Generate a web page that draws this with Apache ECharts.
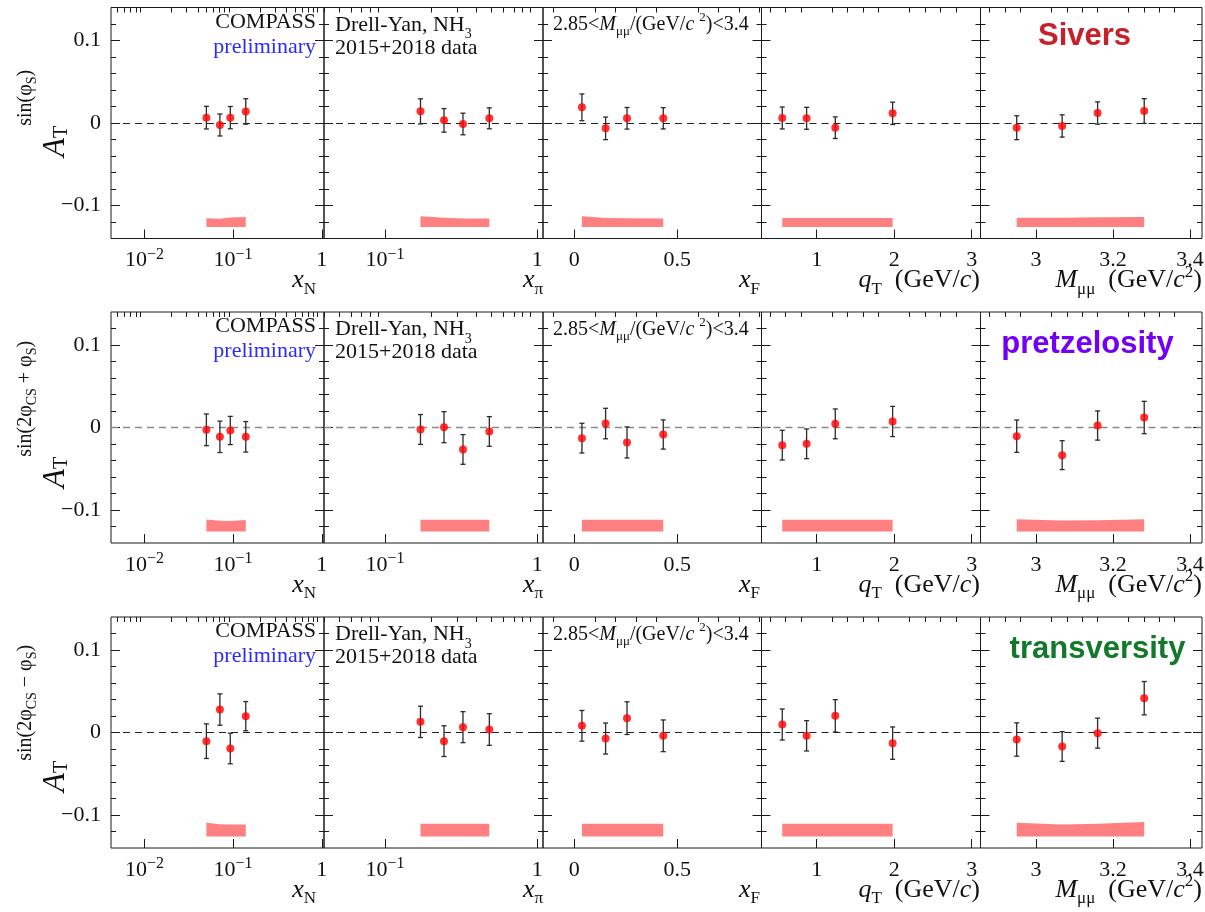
<!DOCTYPE html>
<html>
<head>
<meta charset="utf-8">
<script src="https://cdn.jsdelivr.net/npm/echarts@6/dist/echarts.min.js"></script>
<style>
  html, body { margin: 0; padding: 0; background: #fff; }
  #chart { width: 1205px; height: 912px; }
</style>
</head>
<body>
<div id="chart"></div>
<script>
// ---- kinematic bin centres ----
const xN    = [0.050, 0.071, 0.093, 0.139];
const xPi   = [0.171, 0.244, 0.325, 0.484];
const xF    = [0.037, 0.152, 0.256, 0.432];
const qT    = [0.556, 0.870, 1.24, 1.98];
const mMuMu = [2.950, 3.068, 3.160, 3.281];

// ---- axis tick labels ----
const xNTicks  = [0.01, 0.1, 1];
const xPiTicks = [0.1, 1];
const xFTicks  = [0, 0.5];
const qTTicks  = [1, 2, 3];
const mTicks   = [3, 3.2, 3.4];
const yTicks   = [-0.1, 0, 0.1];

// ---- Sivers asymmetry (per variable: xN, xPi, xF, qT, M) ----
const siversA = [
  [0.0065, -0.0024, 0.0065, 0.0140],
  [0.0141, 0.0032, -0.0012, 0.0057],
  [0.0190, -0.0065, 0.0057, 0.0057],
  [0.0061, 0.0057, -0.0057, 0.0117],
  [-0.0057, -0.0036, 0.0121, 0.0145]
];
const siversStat = [
  [0.0137, 0.0133, 0.0135, 0.0154],
  [0.0152, 0.0143, 0.0131, 0.0127],
  [0.0162, 0.0137, 0.0131, 0.0129],
  [0.0133, 0.0133, 0.0131, 0.0135],
  [0.0145, 0.0135, 0.0135, 0.0150]
];
const siversSyst = [
  [0.0105, 0.0100, 0.0115, 0.0120],
  [0.0129, 0.0113, 0.0101, 0.0101],
  [0.0129, 0.0110, 0.0105, 0.0101],
  [0.0109, 0.0109, 0.0109, 0.0109],
  [0.0113, 0.0113, 0.0117, 0.0121]
];

// ---- pretzelosity asymmetry ----
const pretzA = [
  [-0.0028, -0.0113, -0.0036, -0.0113],
  [-0.0024, 0.0004, -0.0266, -0.0048],
  [-0.0129, 0.0048, -0.0181, -0.0085],
  [-0.0214, -0.0198, 0.0044, 0.0073],
  [-0.0105, -0.0335, 0.0024, 0.0121]
];
const pretzStat = [
  [0.0192, 0.0190, 0.0171, 0.0185],
  [0.0181, 0.0188, 0.0180, 0.0180],
  [0.0180, 0.0185, 0.0188, 0.0177],
  [0.0180, 0.0180, 0.0181, 0.0183],
  [0.0196, 0.0175, 0.0177, 0.0196]
];
const pretzSyst = [
  [0.0145, 0.0130, 0.0128, 0.0138],
  [0.0141, 0.0141, 0.0141, 0.0141],
  [0.0141, 0.0141, 0.0141, 0.0141],
  [0.0141, 0.0141, 0.0141, 0.0141],
  [0.0149, 0.0133, 0.0137, 0.0149]
];

// ---- transversity asymmetry ----
const transA = [
  [-0.0105, 0.0278, -0.0194, 0.0198],
  [0.0129, -0.0105, 0.0065, 0.0036],
  [0.0081, -0.0073, 0.0174, -0.0040],
  [0.0097, -0.0040, 0.0202, -0.0129],
  [-0.0085, -0.0170, -0.0008, 0.0416]
];
const transStat = [
  [0.0210, 0.0190, 0.0185, 0.0177],
  [0.0190, 0.0186, 0.0188, 0.0192],
  [0.0186, 0.0188, 0.0198, 0.0192],
  [0.0188, 0.0184, 0.0196, 0.0196],
  [0.0202, 0.0180, 0.0182, 0.0202]
];
const transSyst = [
  [0.0165, 0.0149, 0.0145, 0.0145],
  [0.0154, 0.0154, 0.0154, 0.0154],
  [0.0154, 0.0154, 0.0154, 0.0154],
  [0.0154, 0.0154, 0.0154, 0.0154],
  [0.0166, 0.0145, 0.0154, 0.0174]
];

// systematic bands are drawn upward from this level
const systBase = -0.126;

// ---- layout ----
const SERIF = '"Liberation Serif", "Times New Roman", serif';
const SANS = '"Liberation Sans", Arial, sans-serif';
const FRAME = '#1a1a1a';
const colEdges = [111, 324, 543, 761.5, 980.5, 1202];
const rowTop = [7.5, 312, 617];
const rowH = 231;
const yRange = [-0.14, 0.14];

const rows = [
  { A: siversA, stat: siversStat, syst: siversSyst, zeroColor: '#222', zeroWidth: 1,
    sup: '{s|sin(φ}{ss|S}{s|)}', titleStart: 149.5,
    tag: 'Sivers', tagColor: '#c8202a', tagX: 1084.5, tagDy: 29 },
  { A: pretzA, stat: pretzStat, syst: pretzSyst, zeroColor: '#8a8a8a', zeroWidth: 1.4,
    sup: '{s|sin(2φ}{ss|CS}{s| + φ}{ss|S}{s|)}', titleStart: 176,
    tag: 'pretzelosity', tagColor: '#7300f5', tagX: 1087.5, tagDy: 32 },
  { A: transA, stat: transStat, syst: transSyst, zeroColor: '#222', zeroWidth: 1,
    sup: '{s|sin(2φ}{ss|CS}{s| − φ}{ss|S}{s|)}', titleStart: 175,
    tag: 'transversity', tagColor: '#12782a', tagX: 1097.5, tagDy: 32 }
];

function logMinor(lo, hi) {
  const out = [];
  for (let n = Math.floor(Math.log10(lo)); n <= Math.ceil(Math.log10(hi)); n++) {
    for (let k = 2; k <= 9; k++) {
      const v = k * Math.pow(10, n);
      if (v > lo && v < hi) out.push(Math.log10(v));
    }
  }
  return out;
}
function linMinor(lo, hi, step, majors) {
  const out = [];
  for (let i = Math.ceil(lo / step - 1e-9); i * step <= hi + 1e-9; i++) {
    const v = +(i * step).toFixed(6);
    if (!majors.some(m => Math.abs(m - v) < 1e-6) && v > lo && v < hi) out.push(v);
  }
  return out;
}
function supText(e) { return e === 0 ? '{b|1}' : '{b|10}{s|' + (e < 0 ? '−' : '') + Math.abs(e) + '}'; }

const panels = [
  { xs: xN, log: true, min: 0.0042, max: 1.06, ticks: xNTicks,
    title: '{i|x}{sub|N}', titleX: 316 },
  { xs: xPi, log: true, min: 0.0398, max: 1.089, ticks: xPiTicks,
    title: '{i|x}{sub|π}', titleX: 543 },
  { xs: xF, log: false, min: -0.152, max: 0.909, ticks: xFTicks, step: 0.1,
    title: '{i|x}{sub|F}', titleX: 760 },
  { xs: qT, log: false, min: 0.288, max: 3.114, ticks: qTTicks, step: 0.2,
    title: '{i|q}{sub|T}{r|  (GeV/}{i|c}{r|)}', titleX: 980 },
  { xs: mMuMu, log: false, min: 2.856, max: 3.431, ticks: mTicks, step: 0.04,
    title: '{i|M}{sub|μμ}{r|  (GeV/}{i|c}{sup|2}{r|)}', titleX: 1202 }
];

const grid = [], xAxis = [], yAxis = [], series = [], graphic = [];

const labelRich = {
  b: { fontFamily: SERIF, fontSize: 22, lineHeight: 28, color: '#111' },
  s: { fontFamily: SERIF, fontSize: 16, lineHeight: 16, padding: [0, 0, 12, 0], color: '#111' }
};

const yMinor = linMinor(-0.14, 0.14, 0.02, yTicks);

rows.forEach((row, r) => {
  panels.forEach((p, c) => {
    const g = grid.length;
    const tx = v => p.log ? Math.log10(v) : v;
    grid.push({
      left: colEdges[c], top: rowTop[r],
      width: colEdges[c + 1] - colEdges[c], height: rowH,
      show: true, borderColor: FRAME, borderWidth: 1, backgroundColor: 'transparent',
      outerBoundsMode: 'none', containLabel: false
    });
    const majors = p.ticks.map(tx);
    const minors = p.log ? logMinor(p.min, p.max) : linMinor(p.min, p.max, p.step, p.ticks);
    const xMain = xAxis.length;
    xAxis.push({
      type: 'value', gridIndex: g, min: tx(p.min), max: tx(p.max),
      axisLine: { show: false, onZero: false },
      splitLine: { show: false },
      axisTick: { show: true, inside: true, length: 9, customValues: majors,
                  lineStyle: { color: FRAME, width: 1 } },
      axisLabel: {
        show: true, customValues: majors, margin: 8,
        formatter: v => {
          if (p.log) return supText(Math.round(v));
          return '{b|' + (+v.toFixed(2)) + '}';
        },
        rich: labelRich
      }
    });
    xAxis.push({
      type: 'value', gridIndex: g, min: tx(p.min), max: tx(p.max),
      axisLine: { show: false, onZero: false }, splitLine: { show: false },
      axisTick: { show: true, inside: true, length: 5, customValues: minors,
                  lineStyle: { color: FRAME, width: 1 } },
      axisLabel: { show: false }
    });
    const yMain = yAxis.length;
    ['left', 'right'].forEach(pos => {
      yAxis.push({
        type: 'value', gridIndex: g, position: pos, min: yRange[0], max: yRange[1],
        axisLine: { show: false, onZero: false }, splitLine: { show: false },
        axisTick: { show: true, inside: true, length: 9, customValues: yTicks,
                    lineStyle: { color: FRAME, width: 1 } },
        axisLabel: {
          show: pos === 'left' && c === 0, customValues: yTicks, margin: 10,
          fontFamily: SERIF, fontSize: 22, color: '#111',
          formatter: v => Math.abs(v) < 1e-9 ? '0' : (v < 0 ? '−' : '') + Math.abs(v).toFixed(1)
        }
      });
      yAxis.push({
        type: 'value', gridIndex: g, position: pos, min: yRange[0], max: yRange[1],
        axisLine: { show: false, onZero: false }, splitLine: { show: false },
        axisTick: { show: true, inside: true, length: 5, customValues: yMinor,
                    lineStyle: { color: FRAME, width: 1 } },
        axisLabel: { show: false }
      });
    });

    const vals = row.A[c], stat = row.stat[c], syst = row.syst[c];
    const bandData = p.xs.map((x, i) => [tx(x), syst[i]]);

    // systematic uncertainty band
    series.push({
      type: 'custom', xAxisIndex: xMain, yAxisIndex: yMain, silent: true, z: 1,
      data: bandData,
      encode: { x: 0, y: 1 },
      renderItem: (params, api) => {
        if (params.dataIndex !== 0) return null;
        const pts = bandData.map(d => api.coord([d[0], systBase + d[1]]));
        pts.push(api.coord([bandData[bandData.length - 1][0], systBase]));
        pts.push(api.coord([bandData[0][0], systBase]));
        return { type: 'polygon', shape: { points: pts }, style: { fill: '#ff8080' } };
      }
    });

    // statistical error bars
    series.push({
      type: 'custom', xAxisIndex: xMain, yAxisIndex: yMain, silent: true, z: 3,
      data: p.xs.map((x, i) => [tx(x), vals[i] - stat[i], vals[i] + stat[i]]),
      encode: { x: 0, y: [1, 2] },
      renderItem: (params, api) => {
        const x = api.value(0);
        const top = api.coord([x, api.value(2)]);
        const bot = api.coord([x, api.value(1)]);
        const st = { stroke: '#2a2a2a', lineWidth: 1.3 };
        const cap = 2.5;
        return {
          type: 'group', children: [
            { type: 'line', shape: { x1: top[0], y1: top[1], x2: bot[0], y2: bot[1] }, style: st },
            { type: 'line', shape: { x1: top[0] - cap, y1: top[1], x2: top[0] + cap, y2: top[1] }, style: st },
            { type: 'line', shape: { x1: bot[0] - cap, y1: bot[1], x2: bot[0] + cap, y2: bot[1] }, style: st }
          ]
        };
      }
    });

    // central values + zero reference line
    series.push({
      type: 'scatter', xAxisIndex: xMain, yAxisIndex: yMain, z: 4, silent: true,
      symbol: 'circle', symbolSize: 8,
      itemStyle: { color: '#ff0000' },
      data: p.xs.map((x, i) => [tx(x), vals[i]]),
      markLine: {
        silent: true, symbol: 'none', label: { show: false }, z: 2,
        lineStyle: { color: row.zeroColor, width: row.zeroWidth, type: [7, 5] },
        data: [{ yAxis: 0 }]
      }
    });

    // axis title
    graphic.push({
      type: 'text', x: p.titleX, y: rowTop[r] + 273, silent: true,
      style: {
        text: p.title, align: 'right', verticalAlign: 'middle',
        rich: {
          i: { fontFamily: SERIF, fontStyle: 'italic', fontSize: 26, lineHeight: 26, fill: '#111' },
          r: { fontFamily: SERIF, fontSize: 26, lineHeight: 26, fill: '#111' },
          sub: { fontFamily: SERIF, fontSize: 17, lineHeight: 17, padding: [18, 0, 0, 0], fill: '#111' },
          sup: { fontFamily: SERIF, fontSize: 17, lineHeight: 17, padding: [0, 0, 16, 0], fill: '#111' }
        }
      }
    });
  });

  const t = rowTop[r];
  // in-frame annotations
  graphic.push(
    { type: 'text', x: 316, y: t + 14.5, silent: true,
      style: { text: 'COMPASS', font: '22px ' + SERIF, fill: '#111', align: 'right', verticalAlign: 'middle' } },
    { type: 'text', x: 316, y: t + 39.5, silent: true,
      style: { text: 'preliminary', font: '22px ' + SERIF, fill: '#2a2aff', align: 'right', verticalAlign: 'middle' } },
    { type: 'text', x: 335, y: t + 17.5, silent: true,
      style: { text: '{r|Drell-Yan, NH}{sub|3}', align: 'left', verticalAlign: 'middle',
        rich: {
          r: { fontFamily: SERIF, fontSize: 22, lineHeight: 22, fill: '#111' },
          sub: { fontFamily: SERIF, fontSize: 14, lineHeight: 14, padding: [19, 0, 0, 0], fill: '#111' }
        } } },
    { type: 'text', x: 335, y: t + 40.5, silent: true,
      style: { text: '2015+2018 data', font: '22px ' + SERIF, fill: '#111', align: 'left', verticalAlign: 'middle' } },
    { type: 'text', x: 553, y: t + 17.5, silent: true,
      style: { text: '{r|2.85<}{i|M}{sub|μμ}{r|/(GeV/}{i|c }{sup|2}{r|)<3.4}', align: 'left', verticalAlign: 'middle',
        rich: {
          r: { fontFamily: SERIF, fontSize: 20, lineHeight: 20, fill: '#111' },
          i: { fontFamily: SERIF, fontStyle: 'italic', fontSize: 20, lineHeight: 20, fill: '#111' },
          sub: { fontFamily: SERIF, fontSize: 13, lineHeight: 13, padding: [14, 0, 0, 0], fill: '#111' },
          sup: { fontFamily: SERIF, fontSize: 13, lineHeight: 13, padding: [0, 0, 14, 0], fill: '#111' }
        } } },
    { type: 'text', x: row.tagX, y: t + row.tagDy, silent: true,
      style: { text: row.tag, font: 'bold 31px ' + SANS, fill: row.tagColor, align: 'center', verticalAlign: 'middle' } },
    // y-axis title, rotated to read upwards; line top sits at screen x = 10
    { type: 'text', x: 10, y: t + row.titleStart, rotation: Math.PI / 2, silent: true,
      style: { text: '{A|A}{T|T}' + row.sup, align: 'left', verticalAlign: 'top',
        rich: {
          A: { fontFamily: SERIF, fontStyle: 'italic', fontSize: 31, lineHeight: 31, verticalAlign: 'top', padding: [30, 0, 0, 0], fill: '#111' },
          T: { fontFamily: SERIF, fontSize: 20, lineHeight: 20, verticalAlign: 'top', padding: [42, 0, 0, 0], fill: '#111' },
          s: { fontFamily: SERIF, fontSize: 20, lineHeight: 20, verticalAlign: 'top', padding: [6, 0, 0, 0], fill: '#111' },
          ss: { fontFamily: SERIF, fontSize: 14, lineHeight: 14, verticalAlign: 'top', padding: [15, 0, 0, 0], fill: '#111' }
        } } }
  );
});

const chart = echarts.init(document.getElementById('chart'), null, { renderer: 'canvas' });
chart.setOption({
  animation: false,
  backgroundColor: '#fff',
  grid, xAxis, yAxis, series, graphic
});
</script>
</body>
</html>
